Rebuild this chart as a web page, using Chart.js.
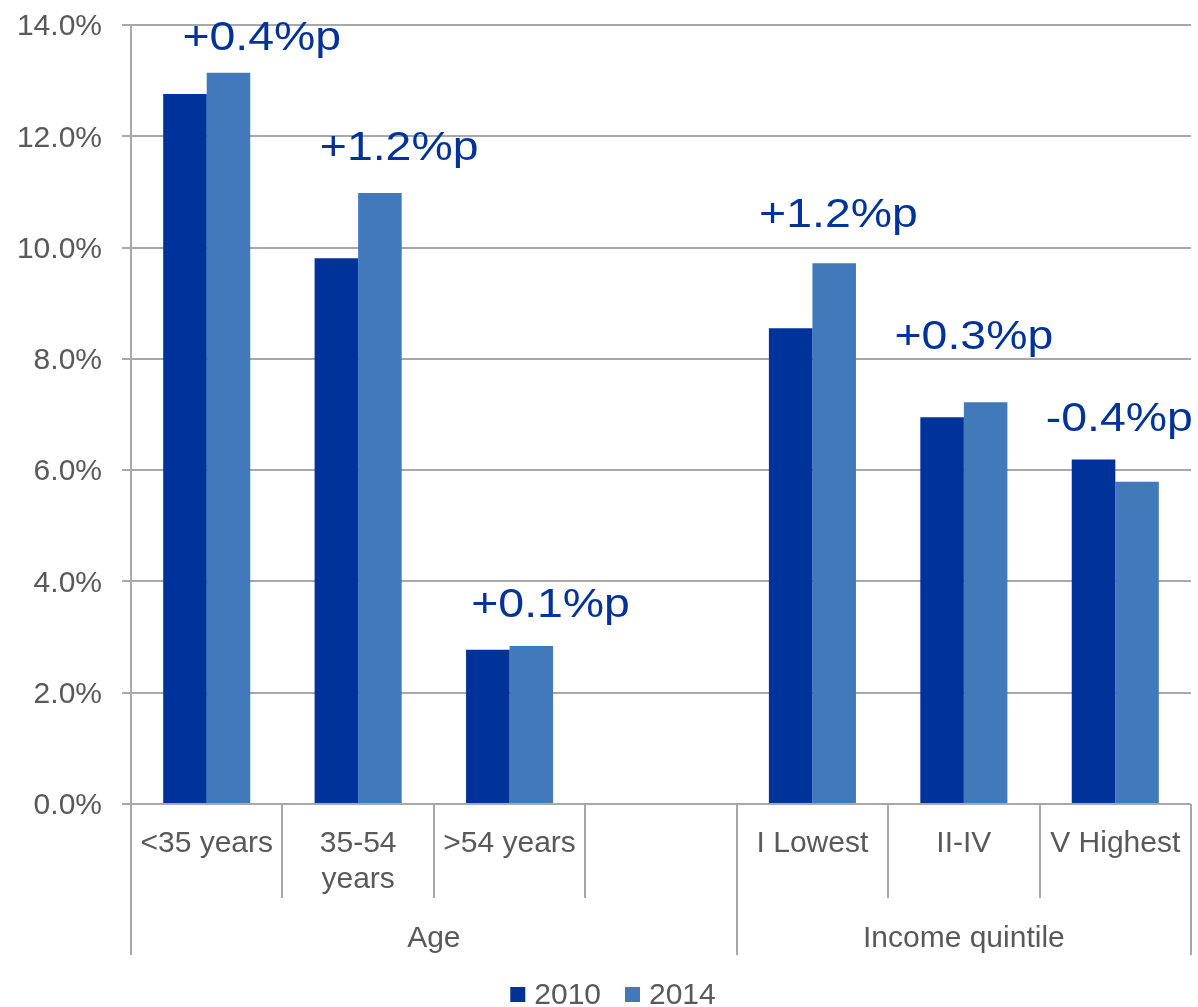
<!DOCTYPE html>
<html>
<head>
<meta charset="utf-8">
<script src="https://cdn.jsdelivr.net/npm/chart.js@4.4.1/dist/chart.umd.min.js"></script>
<style>
  html, body { margin: 0; padding: 0; background: #ffffff; }
  #wrap { width: 1198px; height: 1007px; }
</style>
</head>
<body>
<div id="wrap"><canvas id="chart" width="1198" height="1007"></canvas></div>
<script>
// Categories along the x axis (the blank slot separates the two groups)
const categories = ['<35 years', ['35-54', 'years'], '>54 years', '', 'I Lowest', 'II-IV', 'V Highest'];
// Share in percent, per year
const values2010 = [12.76, 9.81, 2.77, null, 8.55, 6.95, 6.19];
const values2014 = [13.14, 10.98, 2.84, null, 9.72, 7.22, 5.79];
const seriesNames = ['2010', '2014'];
// Second row of the category axis
const groups = ['Age', 'Income quintile'];
const groupStarts = [0, 4];
// Value axis
const yMin = 0, yMax = 14, yStep = 2;

const FONT = "'Liberation Sans', Arial, sans-serif";
const GRID = '#a8a8a8';
const LINE_W = 2;
const TEXT = '#595959';
const COLORS = ['#003399', '#4279bb'];

// Separator lines and group names under the category axis
const groupAxis = {
  id: 'groupAxis',
  afterDraw(chart, args, opts) {
    const { ctx, chartArea } = chart;
    const xs = chart.scales.x;
    const n = categories.length;
    const step = (xs.right - xs.left) / n;
    ctx.save();
    ctx.strokeStyle = GRID;
    ctx.lineWidth = LINE_W;
    for (let i = 0; i <= n; i++) {
      const px = Math.round(xs.left + i * step);
      const edge = i === n || groupStarts.includes(i);
      ctx.beginPath();
      ctx.moveTo(px, chartArea.bottom);
      ctx.lineTo(px, chartArea.bottom + (edge ? opts.outer : opts.inner));
      ctx.stroke();
    }
    ctx.fillStyle = TEXT;
    ctx.font = `${opts.size}px ${FONT}`;
    ctx.textAlign = 'center';
    ctx.textBaseline = 'alphabetic';
    groups.forEach((g, k) => {
      const s = groupStarts[k];
      const e = k + 1 < groups.length ? groupStarts[k + 1] : n;
      ctx.fillText(g, xs.left + (s + e) / 2 * step, chartArea.bottom + opts.baseline);
    });
    ctx.restore();
  }
};

// Change between the two years, written above each pair of bars
const deltaLabels = {
  id: 'deltaLabels',
  afterDatasetsDraw(chart, args, opts) {
    const { ctx } = chart;
    const xs = chart.scales.x, ys = chart.scales.y;
    ctx.save();
    ctx.fillStyle = opts.color;
    ctx.font = `${opts.size}px ${FONT}`;
    ctx.textAlign = 'center';
    ctx.textBaseline = 'alphabetic';
    categories.forEach((c, i) => {
      const a = values2010[i], b = values2014[i];
      if (a == null || b == null) return;
      const d = b - a;
      const txt = (d >= 0 ? '+' : '-') + Math.abs(d).toFixed(1) + '%p';
      const off = opts.offsets[i];
      const cx = xs.getPixelForValue(i) + off[0];
      const by = ys.getPixelForValue(Math.max(a, b)) - off[1];
      ctx.save();
      ctx.translate(cx, by);
      ctx.scale(opts.stretch, 1);
      ctx.fillText(txt, 0, 0);
      ctx.restore();
    });
    ctx.restore();
  }
};

// Legend row at the foot of the chart
const footLegend = {
  id: 'footLegend',
  afterDraw(chart, args, opts) {
    const { ctx } = chart;
    ctx.save();
    ctx.font = `${opts.size}px ${FONT}`;
    const items = chart.data.datasets.map(d => ({
      label: d.label, color: d.backgroundColor, w: ctx.measureText(d.label).width
    }));
    const total = items.reduce((s, it) => s + opts.box + opts.gap + it.w, 0) + opts.spacing * (items.length - 1);
    let px = chart.width / 2 + opts.shift - total / 2;
    items.forEach(it => {
      ctx.fillStyle = it.color;
      ctx.fillRect(px, opts.boxTop, opts.box, opts.box);
      px += opts.box + opts.gap;
      ctx.fillStyle = TEXT;
      ctx.textAlign = 'left';
      ctx.textBaseline = 'alphabetic';
      ctx.fillText(it.label, px, opts.baseline);
      px += it.w + opts.spacing;
    });
    ctx.restore();
  }
};

new Chart(document.getElementById('chart'), {
  type: 'bar',
  data: {
    labels: categories,
    datasets: [
      { label: seriesNames[0], data: values2010, backgroundColor: COLORS[0] },
      { label: seriesNames[1], data: values2014, backgroundColor: COLORS[1] }
    ]
  },
  options: {
    responsive: false,
    animation: false,
    devicePixelRatio: 1,
    layout: { padding: { top: 25, left: 0, right: 7, bottom: 52 } },
    datasets: { bar: { categoryPercentage: 0.575, barPercentage: 1.0 } },
    scales: {
      x: {
        grid: { display: false, drawTicks: false },
        border: { display: false },
        ticks: {
          autoSkip: false, maxRotation: 0, minRotation: 0,
          color: TEXT, padding: 22,
          font: { family: FONT, size: 30, lineHeight: 1.2 }
        },
        afterFit(scale) {
          scale.height = 151;
          scale.paddingLeft = 0;
          scale.paddingRight = 0;
        }
      },
      y: {
        min: yMin, max: yMax,
        grid: { color: GRID, lineWidth: LINE_W, drawTicks: true, tickLength: 9 },
        border: { display: true, color: GRID, width: LINE_W },
        ticks: {
          stepSize: yStep, color: TEXT, padding: 20, labelOffset: 2,
          font: { family: FONT, size: 30 },
          callback: v => v.toFixed(1) + '%'
        },
        afterFit(scale) {
          scale.width = 131;
          scale.paddingTop = 0;
          scale.paddingBottom = 0;
        }
      }
    },
    plugins: {
      legend: { display: false },
      tooltip: { enabled: false },
      groupAxis: { inner: 94, outer: 151, baseline: 143, size: 30 },
      deltaLabels: {
        color: '#003399', size: 40, stretch: 1.16,
        offsets: [[55, 23], [41, 33], [41, 29], null, [26, 36], [10, 53], [4, 29]]
      },
      footLegend: { size: 30, box: 15, gap: 9, spacing: 24, shift: 14, boxTop: 987, baseline: 1004 }
    }
  },
  plugins: [groupAxis, deltaLabels, footLegend]
});
</script>
</body>
</html>
